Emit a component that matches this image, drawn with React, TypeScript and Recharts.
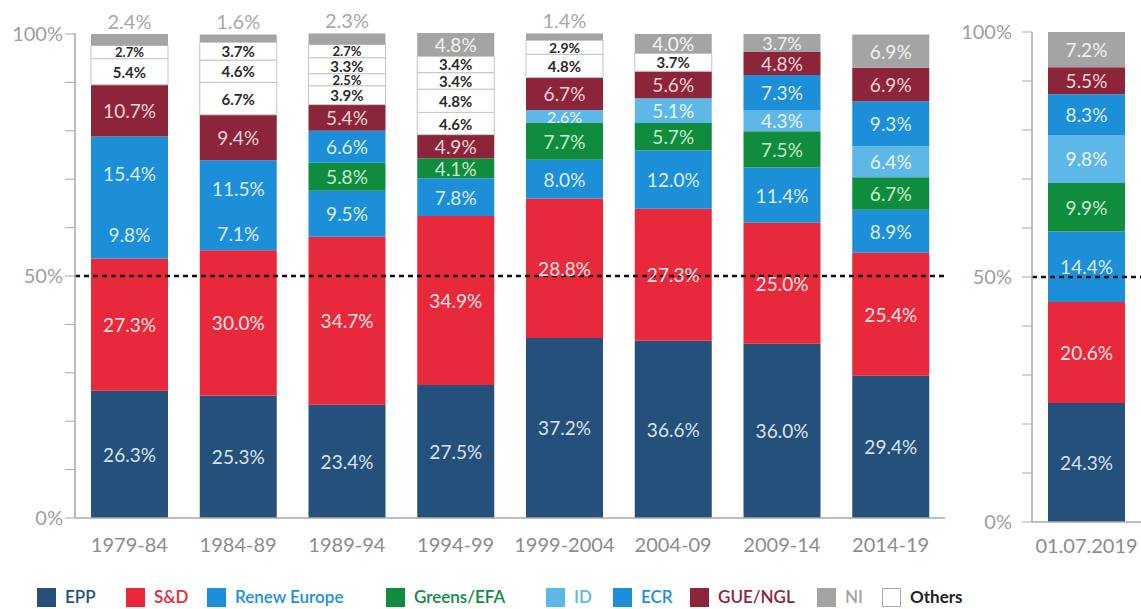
import React from 'react';
import { BarChart, Bar, XAxis, YAxis, ReferenceLine, LabelList } from 'recharts';

// ---- Data (percent of seats), stacked bottom -> top ----
const periods = ['1979-84', '1984-89', '1989-94', '1994-99', '1999-2004', '2004-09', '2009-14', '2014-19'];
const eppValues = [26.3, 25.3, 23.4, 27.5, 37.2, 36.6, 36.0, 29.4];
const sdValues = [27.3, 30.0, 34.7, 34.9, 28.8, 27.3, 25.0, 25.4];
const renewValues = [9.8, 7.1, 9.5, 7.8, 8.0, 12.0, 11.4, 8.9];
const greensValues = [null, null, 5.8, 4.1, 7.7, 5.7, 7.5, 6.7];
const idValues = [null, null, null, null, 2.6, 5.1, 4.3, 6.4];
const ecrValues = [15.4, 11.5, 6.6, null, null, null, 7.3, 9.3];
const gueValues = [10.7, 9.4, 5.4, 4.9, 6.7, 5.6, 4.8, 6.9];
const others1Values = [5.4, 6.7, 3.9, 4.6, 4.8, 3.7, null, null];
const others2Values = [2.7, 4.6, 2.5, 4.8, 2.9, null, null, null];
const others3Values = [null, 3.7, 3.3, 3.4, null, null, null, null];
const others4Values = [null, null, 2.7, 3.4, null, null, null, null];
const niValues = [2.4, 1.6, 2.3, 4.8, 1.4, 4.0, 3.7, 6.9];

const latestPeriod = ['01.07.2019'];
const latestEpp = [24.3];
const latestSd = [20.6];
const latestRenew = [14.4];
const latestGreens = [9.9];
const latestId = [9.8];
const latestEcr = [8.3];
const latestGue = [5.5];
const latestNi = [7.2];

const yTicks = [0, 10, 20, 30, 40, 50, 60, 70, 80, 90, 100];
const yTickLabels = ['0%', '', '', '', '', '50%', '', '', '', '', '100%'];

const legendNames = ['EPP', 'S&D', 'Renew Europe', 'Greens/EFA', 'ID', 'ECR', 'GUE/NGL', 'NI', 'Others'];

// ---- Styles ----
const FONT = 'Lato, "Open Sans", sans-serif';
const C = {
  epp: '#25507b',
  sd: '#e8293b',
  renew: '#1d8fd8',
  greens: '#0f8c3d',
  id: '#5db8e8',
  ecr: '#1d8fd8',
  gue: '#8c2539',
  ni: '#a4a4a4',
  others: '#ffffff',
};
const LBL = {
  epp: '#d6e4f3',
  sd: '#ffe3e3',
  renew: '#dbeffd',
  greens: '#c9efcf',
  id: '#eaf7ff',
  ecr: '#dbeffd',
  gue: '#f6d3d9',
  ni: '#f2f2f2',
  others: '#2b2b2b',
};
const legendText = ['#25507b', '#e8293b', '#1d8fd8', '#0f8c3d', '#5db8e8', '#1d8fd8', '#8c2539', '#a6a6a6', '#222'];
const legendSquare = [C.epp, C.sd, C.renew, C.greens, C.id, C.ecr, C.gue, C.ni, '#fff'];
const legendSquareX = [37, 126, 207, 386, 546, 613, 690, 817, 882];

const mainData = periods.map((p, i) => ({
  period: p,
  epp: eppValues[i],
  sd: sdValues[i],
  renew: renewValues[i],
  greens: greensValues[i],
  id: idValues[i],
  ecr: ecrValues[i],
  gue: gueValues[i],
  others1: others1Values[i],
  others2: others2Values[i],
  others3: others3Values[i],
  others4: others4Values[i],
  ni: niValues[i],
}));

const latestData = latestPeriod.map((p, i) => ({
  period: p,
  epp: latestEpp[i],
  sd: latestSd[i],
  renew: latestRenew[i],
  greens: latestGreens[i],
  id: latestId[i],
  ecr: latestEcr[i],
  gue: latestGue[i],
  ni: latestNi[i],
}));

const fmt = (v: number) => `${v.toFixed(1)}%`;

const makeLabel = (color: string, size: number, weight: number, isNi = false, isOthers = false) => (props: any) => {
  const { x, y, width, height, value } = props;
  if (value == null || value === 0) return null;
  const cx = Number(x) + Number(width) / 2;
  if (isNi && value < 2.5) {
    return (
      <text x={cx} y={Number(y) - 5} textAnchor="middle" fill="#a8a8a8" fontSize={20} fontFamily={FONT}>
        {fmt(value)}
      </text>
    );
  }
  const h = Math.abs(Number(height));
  const fs = isOthers ? Math.max(13, Math.min(size, h)) : Math.max(16, Math.min(size, h));
  return (
    <text
      x={cx}
      y={Number(y) + Number(height) / 2}
      textAnchor="middle"
      dominantBaseline="central"
      fill={color}
      fontSize={fs}
      fontWeight={weight}
      fontFamily={FONT}
    >
      {fmt(value)}
    </text>
  );
};

const colorKeys: { key: string; base: keyof typeof C }[] = [
  { key: 'epp', base: 'epp' },
  { key: 'sd', base: 'sd' },
  { key: 'renew', base: 'renew' },
  { key: 'greens', base: 'greens' },
  { key: 'id', base: 'id' },
  { key: 'ecr', base: 'ecr' },
  { key: 'gue', base: 'gue' },
  { key: 'others1', base: 'others' },
  { key: 'others2', base: 'others' },
  { key: 'others3', base: 'others' },
  { key: 'others4', base: 'others' },
  { key: 'ni', base: 'ni' },
];

const renderBars = (keys: { key: string; base: keyof typeof C }[]) =>
  keys.map(({ key, base }) => {
    const isOthers = base === 'others';
    return (
      <Bar
        key={key}
        dataKey={key}
        stackId="s"
        fill={C[base]}
        stroke={isOthers ? '#c4c4c4' : 'none'}
        strokeWidth={isOthers ? 1 : 0}
        isAnimationActive={false}
      >
        <LabelList
          dataKey={key}
          content={makeLabel(LBL[base], isOthers ? 15 : 19, isOthers ? 700 : 400, base === 'ni', isOthers)}
        />
      </Bar>
    );
  });

const yTickFmt = (v: number) => yTickLabels[yTicks.indexOf(v)] ?? '';

export default function App() {
  return (
    <div style={{ position: 'absolute', left: 0, top: 0, width: 1141, height: 609, background: '#fff', fontFamily: FONT }}>
      <div style={{ position: 'absolute', left: 0, top: 0 }}>
        <BarChart width={945} height={560} data={mainData} margin={{ top: 33, right: 0, bottom: 0, left: 10 }} barSize={77}>
          <XAxis
            dataKey="period"
            height={42}
            tickLine={false}
            axisLine={{ stroke: '#a9a9a9', strokeWidth: 1.5 }}
            tickMargin={14}
            tick={{ fill: '#8c8c8c', fontSize: 20, fontFamily: FONT }}
            interval={0}
          />
          <YAxis
            width={65}
            domain={[0, 100]}
            ticks={yTicks}
            interval={0}
            tickFormatter={yTickFmt}
            tickSize={10}
            tickMargin={2}
            tickLine={{ stroke: '#a9a9a9' }}
            axisLine={{ stroke: '#a9a9a9', strokeWidth: 1.5 }}
            tick={{ fill: '#a39d9d', fontSize: 20, fontFamily: FONT }}
          />
          {renderBars(colorKeys)}
          <ReferenceLine y={50} stroke="#111" strokeWidth={2.5} strokeDasharray="5 4" />
        </BarChart>
      </div>
      <div style={{ position: 'absolute', left: 960, top: 0 }}>
        <BarChart width={181} height={560} data={latestData} margin={{ top: 32, right: 0, bottom: 0, left: 0 }} barSize={77}>
          <XAxis
            dataKey="period"
            height={38}
            tickLine={false}
            axisLine={{ stroke: '#a9a9a9', strokeWidth: 1.5 }}
            tickMargin={11}
            tick={{ fill: '#8c8c8c', fontSize: 20, fontFamily: FONT }}
            interval={0}
          />
          <YAxis
            width={72}
            domain={[0, 100]}
            ticks={yTicks}
            interval={0}
            tickFormatter={yTickFmt}
            tickSize={10}
            tickMargin={10}
            tickLine={{ stroke: '#a9a9a9' }}
            axisLine={{ stroke: '#a9a9a9', strokeWidth: 1.5 }}
            tick={{ fill: '#a39d9d', fontSize: 20, fontFamily: FONT }}
          />
          {renderBars(colorKeys.filter((k) => !k.key.startsWith('others')))}
          <ReferenceLine y={50} stroke="#111" strokeWidth={2.5} strokeDasharray="5 4" />
        </BarChart>
      </div>
      {legendNames.map((name, i) => (
        <div key={name} style={{ position: 'absolute', left: legendSquareX[i], top: 587, display: 'flex', alignItems: 'center', height: 20 }}>
          <div
            style={{
              width: 19,
              height: 19,
              background: legendSquare[i],
              border: name === 'Others' ? '1.5px solid #aaa' : 'none',
              boxSizing: 'border-box',
            }}
          />
          <span
            style={{
              marginLeft: 9,
              color: legendText[i],
              fontSize: 17,
              fontWeight: name === 'Others' ? 700 : 600,
              fontFamily: FONT,
              whiteSpace: 'nowrap',
              lineHeight: '20px',
            }}
          >
            {name}
          </span>
        </div>
      ))}
    </div>
  );
}
